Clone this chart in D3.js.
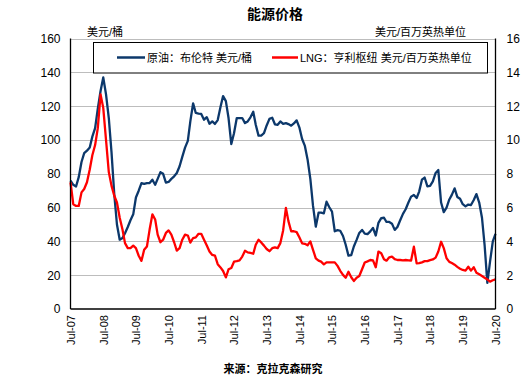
<!DOCTYPE html>
<html><head><meta charset="utf-8">
<script src="https://cdn.jsdelivr.net/npm/d3@7"></script>
<style>
html,body{margin:0;padding:0;background:#fff;}
svg{display:block;font-family:"Liberation Sans","Noto Sans CJK SC",sans-serif;}
</style></head>
<body><svg id="c" width="531" height="379"></svg>
<script>
// Monthly series, Jul-2007 .. Jul-2020
const startYear = 2007, startMonth = 6, monthCount = 157;
const brent = [
76,73.5,72.5,78,87,92.2,93.7,95.6,102,107,118.5,129,137,127,113,93,68,50,41,42,
44.8,48.5,52.5,56,66,70,74.5,74,74.5,74.5,76.5,73.5,77,81,80,74.8,75.2,77,78.5,80.5,
84.5,90,95.5,99.5,111,121.7,116,115.6,115.4,112,113.5,109.6,111,109.5,111.8,119.5,126,123,113,97.6,
104,113,113,113,110,111,113.4,116.7,109,102.6,102.6,104,108.6,112.5,113.2,109.3,109,111,109.6,110,
109.4,108.5,109.8,111.6,107.5,100.6,96.5,88.5,77,61,48.7,57,57,56.6,63.5,60.2,57.6,46,46.7,46.3,
43.2,38,31.6,31.9,37,40.9,45,46.8,44.6,44.3,45.9,48,43.5,51,53.8,54,51.5,51.5,50.5,46.8,
48.5,52.5,56.3,59,63,66.5,67.5,65.7,69.5,76.5,77.8,72.6,72.9,75.5,80.5,82.2,63,57.3,60,64.8,
67.5,71.4,66.3,65.2,62,60.7,61.8,61.5,64.5,68,63,54,38,15.5,28,40,44.5
];
const lng = [
7.5,6.2,6.1,6.1,6.9,7.1,7.5,8.25,9.1,9.7,10.7,12.7,11.9,10.0,8.1,7.3,6.7,6.3,5.4,4.7,
3.9,3.6,3.6,3.75,3.6,3.15,2.85,3.5,3.7,4.7,5.6,5.3,4.4,3.95,4.1,4.5,4.65,4.4,3.95,3.45,
3.6,4.1,4.4,4.35,3.93,4.2,4.24,4.45,4.45,4.1,3.76,3.4,3.2,3.16,2.65,2.46,2.25,1.87,2.35,2.43,
2.8,2.83,2.88,3.1,3.45,3.35,3.32,3.27,3.8,4.1,3.94,3.75,3.55,3.42,3.6,3.65,3.6,3.9,4.65,5.98,
5.2,4.6,4.6,4.55,4.24,3.89,3.86,3.77,4.0,3.5,3.0,2.86,2.8,2.64,2.76,2.76,2.76,2.76,2.55,2.26,
2.02,1.85,2.2,1.88,1.66,1.85,1.95,2.35,2.75,2.82,2.9,2.88,2.47,3.4,3.3,2.95,2.86,3.06,3.1,2.95,
2.9,2.9,2.88,2.9,2.88,2.87,3.69,2.7,2.71,2.76,2.83,2.83,2.89,2.93,3.04,3.4,3.98,3.6,3.0,2.79,
2.72,2.62,2.49,2.38,2.31,2.27,2.5,2.27,2.47,2.15,2.05,1.95,1.85,1.75,1.62,1.7,1.75
];
const leftTicks = [0,20,40,60,80,100,120,140,160];
const rightTicks = [0,2,4,6,8,10,12,14,16];
const xTickLabels = ["Jul-07","Jul-08","Jul-09","Jul-10","Jul-11","Jul-12","Jul-13","Jul-14","Jul-15","Jul-16","Jul-17","Jul-18","Jul-19","Jul-20"];
const title = "能源价格";
const leftUnit = "美元/桶";
const rightUnit = "美元/百万英热单位";
const seriesNames = ["原油：布伦特 美元/桶","LNG：亨利枢纽 美元/百万英热单位"];
const source = "来源：克拉克森研究";

const months = d3.range(monthCount).map(i => new Date(startYear, startMonth + i, 1));
const svg = d3.select("#c");
const L = 70.5, R = 495.5, T = 38.6, B = 309;

const x = d3.scaleTime().domain([months[0], months[monthCount-1]]).range([L, R]);
const yL = d3.scaleLinear().domain([0,160]).range([B, T]);
const yR = d3.scaleLinear().domain([0,16]).range([B, T]);

// gridlines
svg.append("g").selectAll("line").data(leftTicks.filter(d=>d>0)).join("line")
  .attr("x1", L).attr("x2", R)
  .attr("y1", d=>Math.round(yL(d))+0.5).attr("y2", d=>Math.round(yL(d))+0.5)
  .attr("stroke", "#bdbdbd").attr("stroke-width", 1);

// left axis
const axL = svg.append("g").attr("transform", `translate(${L},0)`)
  .call(d3.axisLeft(yL).tickValues(leftTicks).tickSize(0).tickPadding(10));
axL.select(".domain").remove();
axL.selectAll("text").attr("font-size", 12).attr("fill", "#000")
  .attr("font-family", "Liberation Sans, Arial, sans-serif");

// right axis
const axR = svg.append("g").attr("transform", `translate(${R},0)`)
  .call(d3.axisRight(yR).tickValues(rightTicks).tickSize(0).tickPadding(11));
axR.select(".domain").remove();
axR.selectAll("text").attr("font-size", 12).attr("fill", "#000")
  .attr("font-family", "Liberation Sans, Arial, sans-serif");

// x axis labels
const tickDates = xTickLabels.map((_, i) => months[i*12]);
const axB = svg.append("g").attr("transform", `translate(0,${B})`)
  .call(d3.axisBottom(x).tickValues(tickDates).tickSize(0).tickFormat((d,i)=>xTickLabels[i]));
axB.select(".domain").remove();
axB.selectAll("text")
  .attr("font-size", 11).attr("fill", "#000")
  .attr("font-family", "Liberation Sans, Arial, sans-serif")
  .attr("transform", "rotate(-90)")
  .attr("text-anchor", "end")
  .attr("x", -6).attr("y", 0).attr("dy", "0.35em");

// series lines
const lineB = d3.line().x((d,i)=>x(months[i])).y(d=>yL(d)).curve(d3.curveLinear);
const lineL = d3.line().x((d,i)=>x(months[i])).y(d=>yR(d)).curve(d3.curveLinear);
svg.append("path").datum(brent).attr("d", lineB).attr("fill","none")
  .attr("stroke","#0c386b").attr("stroke-width",2.3).attr("stroke-linejoin","round");
svg.append("path").datum(lng).attr("d", lineL).attr("fill","none")
  .attr("stroke","#ff0000").attr("stroke-width",2.3).attr("stroke-linejoin","round");

// axis lines
svg.append("line").attr("x1",L).attr("x2",L).attr("y1",T).attr("y2",B).attr("stroke","#000").attr("stroke-width",1.3);
svg.append("line").attr("x1",R).attr("x2",R).attr("y1",T).attr("y2",B).attr("stroke","#000").attr("stroke-width",1.3);
svg.append("line").attr("x1",L).attr("x2",R).attr("y1",B).attr("y2",B).attr("stroke","#000").attr("stroke-width",1.3);

// legend
const lg = svg.append("g");
lg.append("rect").attr("x",93.5).attr("y",42.5).attr("width",394).attr("height",30.5)
  .attr("fill","#fff").attr("stroke","#000").attr("stroke-width",1);
const legendItems = [
  {name: seriesNames[0], color: "#0c386b", x1: 117, x2: 145, tx: 147},
  {name: seriesNames[1], color: "#ff0000", x1: 272, x2: 298, tx: 300}
];
legendItems.forEach(it => {
  lg.append("line").attr("x1",it.x1).attr("x2",it.x2).attr("y1",57.5).attr("y2",57.5)
    .attr("stroke",it.color).attr("stroke-width",2.5);
  lg.append("text").attr("x",it.tx).attr("y",61.5).attr("font-size",11).attr("fill","#000").text(it.name);
});

// titles
svg.append("text").attr("x",275).attr("y",19).attr("text-anchor","middle")
  .attr("font-size",14).attr("font-weight","bold").text(title);
svg.append("text").attr("x",87).attr("y",35.5).attr("font-size",11).text(leftUnit);
svg.append("text").attr("x",466).attr("y",35.5).attr("text-anchor","end").attr("font-size",11).text(rightUnit);
svg.append("text").attr("x",273).attr("y",372.5).attr("text-anchor","middle")
  .attr("font-size",11).attr("font-weight","bold").text(source);
</script>
</body></html>
